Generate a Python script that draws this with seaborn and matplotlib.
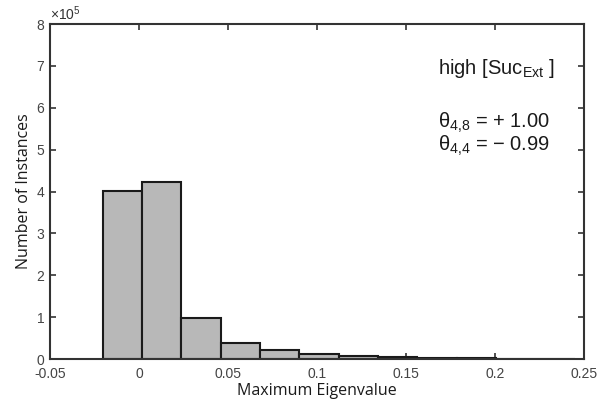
import numpy as np
import pandas as pd
import matplotlib
matplotlib.use("Agg")
import matplotlib.pyplot as plt
import seaborn as sns

# Data
bin_edges = [-0.0205, 0.0016, 0.0237, 0.0458, 0.0679, 0.0900, 0.1121,
             0.1342, 0.1563, 0.1784, 0.2005, 0.2226, 0.2447]
counts = [4.01e5, 4.22e5, 0.97e5, 0.38e5, 0.21e5, 0.12e5, 0.07e5,
          0.04e5, 0.025e5, 0.015e5, 0.01e5, 0.005e5]
x_ticks = [-0.05, 0, 0.05, 0.1, 0.15, 0.2, 0.25]
x_ticklabels = ["-0.05", "0", "0.05", "0.1", "0.15", "0.2", "0.25"]
y_ticks = [0, 1, 2, 3, 4, 5, 6, 7, 8]
y_ticklabels = ["0", "1", "2", "3", "4", "5", "6", "7", "8"]

centers = [(bin_edges[i] + bin_edges[i + 1]) / 2 for i in range(len(counts))]
df = pd.DataFrame({"value": centers, "count": counts})

sns.set_style("white")
plt.rcParams["font.family"] = ["Liberation Sans", "DejaVu Sans"]
plt.rcParams["mathtext.fontset"] = "custom"
plt.rcParams["mathtext.rm"] = "Liberation Sans"
plt.rcParams["mathtext.it"] = "Liberation Sans"

fig = plt.figure(figsize=(6.13, 4.01), dpi=100)
ax = fig.add_axes([0.0816, 0.1047, 0.8713, 0.8353])

sns.histplot(data=df, x="value", weights="count", bins=bin_edges, ax=ax,
             color="#b8b8b8", alpha=1.0, edgecolor="#1a1a1a", linewidth=1.5)

ax.set_xlim(-0.05, 0.25)
ax.set_ylim(0, 8e5)
ax.set_xticks(x_ticks)
ax.set_xticklabels(x_ticklabels)
ax.set_yticks([v * 1e5 for v in y_ticks])
ax.set_yticklabels(y_ticklabels)
ax.tick_params(direction="in", length=4, width=1.2, color="#333333",
               labelsize=10, labelcolor="#444444", top=True, right=True,
               bottom=True, left=True)
ax.tick_params(axis="x", pad=6)
ax.tick_params(axis="y", pad=4)
for s in ax.spines.values():
    s.set_visible(True)
    s.set_color("#333333")
    s.set_linewidth(1.5)

ax.set_xlabel("Maximum Eigenvalue", fontsize=11.5, family=["Open Sans", "DejaVu Sans"],
              color="#1a1a1a", labelpad=1)
ax.set_ylabel("Number of Instances", fontsize=11.5, family=["Open Sans", "DejaVu Sans"],
              color="#1a1a1a", labelpad=3)

ax.text(0.0, 1.003, r"$\times10^{5}$", transform=ax.transAxes, ha="left",
        va="bottom", fontsize=10, color="#333333")

ax.text(0.168, 6.95e5, r"high [Suc$_{\mathrm{Ext}}$ ]", fontsize=14.5,
        color="#1a1a1a", ha="left", va="center")
ax.text(0.168, 5.65e5, "θ$_{4{,}8}$ = + 1.00", fontsize=14.5,
        color="#1a1a1a", ha="left", va="center")
ax.text(0.168, 5.1e5, "θ$_{4{,}4}$ = − 0.99", fontsize=14.5,
        color="#1a1a1a", ha="left", va="center")

fig.savefig("out.png", dpi=100)
